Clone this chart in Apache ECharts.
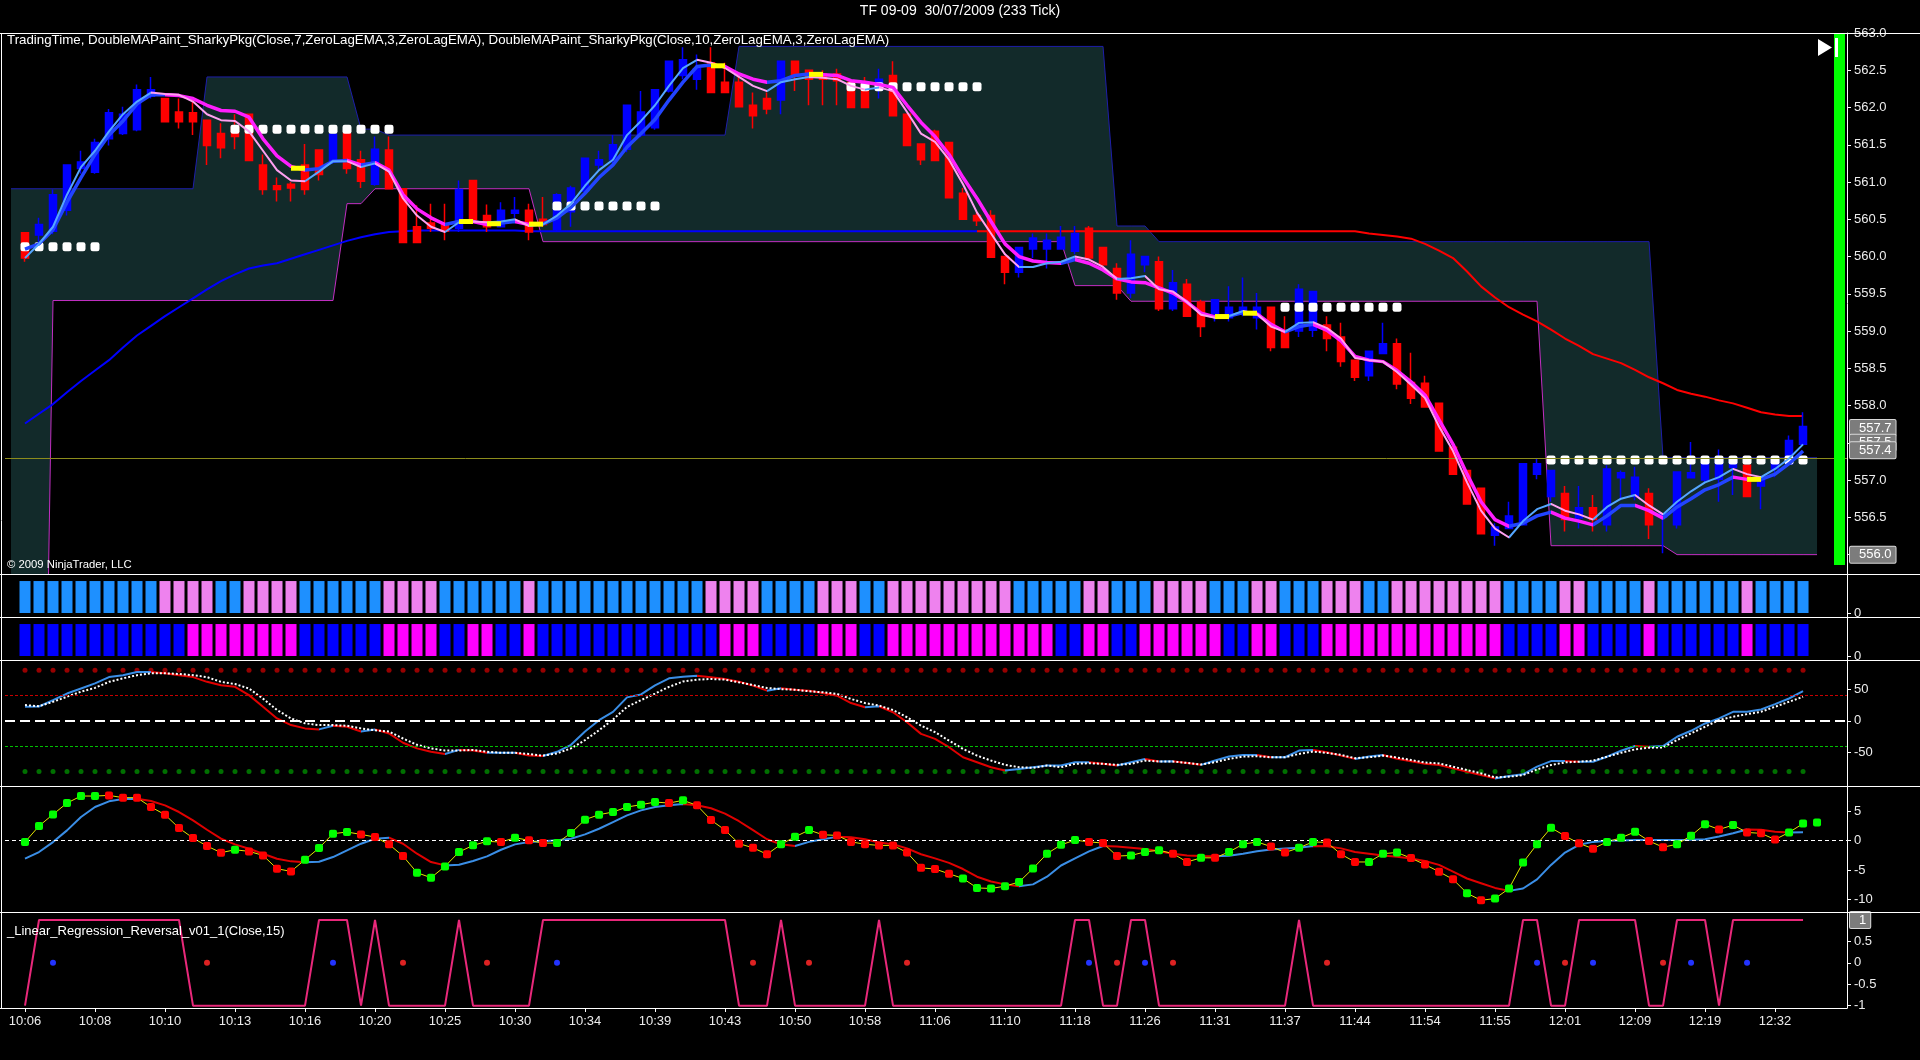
<!DOCTYPE html>
<html><head><meta charset="utf-8">
<script src="https://cdn.jsdelivr.net/npm/echarts@6/dist/echarts.min.js"></script>
<style>html,body{margin:0;padding:0;background:#000;}#c{width:1920px;height:1060px;}</style>
</head><body><div id="c"></div>
<script>
const timeLabels = ["10:06","10:08","10:10","10:13","10:16","10:20","10:25","10:30","10:34","10:39","10:43","10:50","10:58","11:06","11:10","11:18","11:26","11:31","11:37","11:44","11:54","11:55","12:01","12:09","12:19","12:32"];
const priceTicks = [556.0,556.5,557.0,557.5,558.0,558.5,559.0,559.5,560.0,560.5,561.0,561.5,562.0,562.5,563.0];
const zeroTick = [0];
const oscTicks = [-50,0,50];
const momTicks = [-10,-5,0,5];
const lrTicks = [-1,-0.5,0,0.5];

const open = [560.32,560.29,560.34,560.62,561.18,561.13,561.58,561.65,561.70,562.15,
562.12,561.94,561.93,561.83,561.65,561.75,561.91,561.23,560.95,560.97,
561.23,561.43,561.29,561.65,561.30,560.97,561.43,560.91,560.40,560.45,
560.43,560.38,561.02,560.55,560.40,560.58,560.62,560.50,560.36,560.60,
560.88,561.23,561.30,561.44,561.63,561.73,562.22,562.43,562.38,562.60,
562.34,562.34,562.03,562.12,562.10,562.62,562.50,562.45,562.45,562.34,
562.34,562.24,562.43,561.91,561.51,561.68,561.53,560.85,560.55,560.55,
560.00,559.79,560.10,560.10,560.10,560.07,560.38,560.12,559.84,559.51,
559.89,559.93,559.30,559.63,559.39,559.23,559.18,559.23,559.18,559.32,
559.01,559.00,559.01,559.08,558.92,558.61,558.40,558.70,558.83,558.31,
558.30,558.03,557.44,557.13,556.89,556.26,556.35,556.40,557.08,556.78,
556.82,556.49,556.63,556.40,557.03,556.78,556.82,556.50,556.40,557.03,
557.00,557.01,557.17,557.20,556.92,557.15,557.22,557.48];
const close = [559.98,560.43,560.83,561.23,561.27,561.53,561.93,561.91,562.24,562.24,
561.81,561.81,561.81,561.49,561.46,561.61,561.29,560.90,560.90,560.92,
560.90,561.10,561.64,561.18,561.01,561.44,560.91,560.19,560.19,560.38,
560.34,560.90,560.50,560.40,560.62,560.62,560.33,560.43,560.83,560.92,
561.32,561.30,561.50,562.03,561.94,562.24,562.62,562.64,562.52,562.20,
562.20,562.01,561.89,561.98,562.62,562.43,562.38,562.38,562.36,562.00,
562.00,562.38,561.89,561.49,561.30,561.29,560.79,560.50,560.48,559.99,
559.79,560.12,560.25,560.22,560.26,560.31,559.98,559.89,559.51,560.03,
560.00,559.30,559.65,559.20,559.06,559.42,559.32,559.32,559.32,558.78,
558.78,559.56,559.53,558.90,558.59,558.38,558.73,558.83,558.29,558.10,
557.98,557.39,557.08,556.68,556.28,556.37,556.52,557.22,557.22,557.13,
556.47,556.63,556.47,557.15,557.10,557.04,556.40,556.55,557.11,557.10,
557.22,557.29,557.29,556.78,557.04,557.29,557.53,557.72];
const low = [559.93,560.20,560.30,560.55,561.11,561.11,561.49,561.63,561.68,562.12,
561.81,561.72,561.63,561.23,561.32,561.44,561.29,560.83,560.74,560.74,
560.83,561.02,561.25,561.11,560.92,560.95,560.90,560.19,560.19,560.33,
560.22,560.33,560.45,560.33,560.40,560.52,560.22,560.40,560.33,560.40,
560.85,561.16,561.25,561.40,561.60,561.70,562.20,562.38,562.24,562.20,
562.20,562.00,561.72,561.91,561.91,562.22,562.03,562.03,562.03,562.00,
562.00,562.12,561.89,561.49,561.23,561.29,560.79,560.50,560.41,559.99,
559.63,559.72,559.98,559.84,560.10,560.03,559.98,559.84,559.42,559.44,
559.79,559.27,559.27,559.20,558.92,559.13,559.13,559.20,559.02,558.73,
558.78,558.92,558.92,558.73,558.52,558.33,558.33,558.70,558.22,558.02,
557.98,557.39,557.08,556.68,556.28,556.12,556.35,556.40,557.01,556.71,
556.31,556.35,556.31,556.31,556.73,556.73,556.21,556.02,556.35,557.03,
556.97,556.71,556.80,556.78,556.61,557.04,557.22,557.48];
const high = [560.32,560.52,560.90,561.23,561.42,561.58,561.98,562.01,562.31,562.41,
562.12,562.12,562.10,561.83,561.79,561.91,561.91,561.37,561.06,561.00,
561.51,561.43,561.65,561.65,561.42,561.61,561.61,560.91,560.69,560.71,
560.71,561.02,561.02,560.70,560.73,560.80,560.71,560.80,560.85,560.95,
561.32,561.42,561.63,562.03,562.22,562.25,562.62,562.81,562.71,562.81,
562.60,562.43,562.20,562.20,562.62,562.62,562.50,562.50,562.52,562.38,
562.41,562.52,562.62,561.91,561.51,561.70,561.53,560.92,560.59,560.62,
560.00,560.12,560.31,560.31,560.41,560.41,560.41,560.12,559.91,560.22,
560.00,560.00,559.82,559.70,559.42,559.42,559.60,559.72,559.51,559.32,
559.20,559.63,559.53,559.20,559.11,558.61,558.73,559.11,558.90,558.71,
558.40,558.03,557.48,557.13,556.89,556.42,556.71,557.22,557.29,557.13,
556.92,556.92,556.80,557.20,557.13,557.18,556.89,556.55,557.11,557.51,
557.22,557.41,557.32,557.20,557.06,557.32,557.60,557.91];

const slowMA = [557.76,557.89,558.02,558.18,558.33,558.47,558.61,558.78,558.94,559.07,
559.20,559.32,559.44,559.56,559.67,559.76,559.84,559.88,559.91,559.97,
560.03,560.09,560.15,560.21,560.26,560.30,560.33,560.34,560.35,560.35,
560.35,560.35,560.35,560.35,560.35,560.35,560.34,560.34,560.34,560.34,
560.34,560.34,560.34,560.34,560.34,560.34,560.34,560.34,560.34,560.34,
560.34,560.34,560.34,560.34,560.34,560.34,560.34,560.34,560.34,560.34,
560.34,560.34,560.34,560.34,560.34,560.34,560.34,560.34,560.34,560.34,
560.34,560.34,560.34,560.34,560.34,560.34,560.34,560.34,560.34,560.34,
560.34,560.34,560.34,560.34,560.34,560.34,560.34,560.34,560.34,560.34,
560.34,560.34,560.34,560.34,560.34,560.34,560.31,560.29,560.27,560.24,
560.17,560.08,559.98,559.80,559.60,559.45,559.32,559.22,559.13,559.02,
558.90,558.80,558.69,558.63,558.57,558.48,558.38,558.30,558.21,558.16,
558.12,558.07,558.03,557.97,557.91,557.88,557.86,557.86];
const slowMATurn = 68;

const maSlowLeg = [560.10,560.17,560.36,560.73,561.06,561.37,561.63,561.82,562.05,562.17,
562.17,562.16,562.12,562.03,561.96,561.95,561.87,561.58,561.35,561.21,
561.16,561.18,561.28,561.29,561.23,561.26,561.16,560.83,560.64,560.52,
560.43,560.47,560.47,560.43,560.45,560.47,560.43,560.44,560.52,560.66,
560.85,561.06,561.23,561.47,561.65,561.84,562.10,562.34,562.55,562.57,
562.55,562.45,562.38,562.34,562.36,562.43,562.45,562.44,562.43,562.36,
562.34,562.31,562.27,562.03,561.80,561.61,561.37,561.06,560.78,560.47,
560.17,560.00,559.94,559.92,559.91,559.96,559.91,559.82,559.70,559.66,
559.65,559.58,559.51,559.39,559.24,559.19,559.20,559.25,559.23,559.09,
558.99,559.06,559.09,559.01,558.87,558.66,558.61,558.59,558.47,558.32,
558.14,557.81,557.48,557.08,556.71,556.47,556.38,556.42,556.52,556.57,
556.49,556.45,556.40,556.52,556.66,556.66,556.59,556.49,556.64,556.75,
556.87,556.94,557.04,557.01,557.01,557.08,557.22,557.39];
const maFastLeg = [559.98,560.17,560.40,560.83,561.20,561.42,561.68,561.91,562.08,562.20,
562.18,562.17,562.08,561.91,561.83,561.82,561.68,561.42,561.16,561.02,
561.01,561.14,561.28,561.28,561.20,561.25,561.14,560.78,560.55,560.40,
560.33,560.46,560.47,560.46,560.47,560.50,560.41,560.43,560.55,560.71,
560.95,561.16,561.30,561.63,561.82,562.03,562.29,562.53,562.64,562.60,
562.53,562.41,562.29,562.22,562.34,562.38,562.41,562.40,562.38,562.29,
562.24,562.27,562.22,561.94,561.65,561.54,561.30,560.97,560.59,560.31,
560.03,559.86,559.86,559.91,559.93,560.00,559.96,559.86,559.70,559.71,
559.74,559.56,559.53,559.39,559.22,559.18,559.20,559.27,559.23,559.06,
558.99,559.11,559.12,559.04,558.90,558.64,558.61,558.59,558.45,558.28,
558.10,557.72,557.39,556.97,556.59,556.35,556.23,556.45,556.61,556.68,
556.59,556.54,556.47,556.64,556.75,556.80,556.66,556.54,556.71,556.85,
556.97,557.04,557.15,557.08,557.04,557.15,557.29,557.48];
const yellowStarts = [19,31,33,36,49,56,85,87,123];

const bandUpperRuns = [[560.91,14],[562.41,11],[561.71,2],[561.63,25],[562.82,27],[560.41,3],[560.20,36],[557.30,12]];
const bandLowerRuns = [[548.00,3],[559.41,21],[560.71,2],[560.91,12],[560.20,38],[559.61,4],[559.40,30],[556.12,9],[556.00,11]];
const dotSegments = [[0,5,560.13],[15,26,561.71],[38,45,560.68],[59,68,562.28],[90,98,559.32],[109,127,557.27]];
const oliveLevel = 557.3;
const priceTags = [557.7,557.5,557.4,556.0];

const paintBRuns = [['B',10],['P',4],['B',2],['P',4],['B',6],['P',4],['B',6],['P',1],['B',12],['P',4],['B',4],['P',3],['B',2],['P',9],['B',5],['P',2],['B',3],['P',4],['B',3],['P',2],['B',3],['P',3],['B',2],['P',8],['B',4],['P',2],['B',4],['P',1],['B',6],['P',1],['B',4]];
const paintCRuns = [['B',12],['M',8],['B',6],['M',4],['B',2],['M',2],['B',2],['M',1],['B',13],['M',3],['B',4],['M',3],['B',2],['M',12],['B',2],['M',2],['B',2],['M',6],['B',2],['M',2],['B',3],['M',13],['B',4],['M',2],['B',4],['M',1],['B',6],['M',1],['B',4]];

const oscMain = [22,22.6,32.6,43,51,59,69,72,77,77,
75,72,69,61.5,56,53.6,40.5,22,3.7,-6.8,
-12,-13.6,-7.9,-9.5,-17,-13.6,-20,-34.7,-43.6,-49,
-52.5,-46,-47,-50.5,-50.5,-50.5,-55,-55.5,-49,-38,
-17,1,14,37,41.6,56,67,69.5,71,68.6,
66,61.8,55.5,47.6,51.3,49,47.6,44,39.7,28,
21.3,23,13.5,-2.3,-20.7,-28.6,-41.7,-57.6,-65.4,-73.3,
-78.6,-76,-73.3,-70.7,-70.7,-65.4,-65.4,-68,-70.7,-65.4,
-60.2,-64.4,-63.8,-66.5,-69.6,-62.8,-56.5,-53.9,-53.9,-57.6,
-57.6,-47,-46,-49.7,-55,-60.2,-56.5,-53.9,-60,-64,
-68,-69.9,-75.2,-80.4,-85.7,-91,-87.3,-84.6,-72.5,-63.6,
-63.6,-64.6,-64.6,-56.7,-47.3,-39.9,-41,-39.9,-25.2,-15.8,
-4.2,3.7,14.2,14.2,17.9,26.3,35.2,46.8];
const oscSignal = [24.8,23,30,38,46,52,61.5,67,72,75,
75,74,72,69,61.5,58,51,35,17,3.7,
-4,-6.8,-6.8,-7.9,-12,-15,-17,-28,-38,-43.6,
-47,-47,-46,-49,-50.5,-50.5,-52.5,-55,-51.5,-43.6,
-30.5,-15,2,22,32.6,43,53.6,62,65,66,
65,60.7,56.5,51.8,50,49,46.6,45,42.4,34.5,
28,24,17,5.6,-7.6,-18,-31.3,-44.4,-55,-62.8,
-69.6,-73.3,-74.4,-70.7,-73.3,-68,-67,-68,-69.6,-68,
-62.8,-64.4,-64.4,-66.5,-69,-65.4,-60.2,-56.5,-56,-57.6,
-57.6,-52.3,-48.6,-50.7,-53.9,-59.1,-57.6,-55,-58,-62,
-66,-67.3,-72.5,-77.8,-83,-89.4,-88.3,-85.7,-76.8,-69.9,
-65.7,-64.6,-63,-56.7,-50.5,-45.2,-42.6,-42,-30.5,-20,
-9.4,1.1,6.4,10.5,14.2,22.1,30,37.9];
const oscBands = [80,40,-40,-80];

const momDots = [-0.23,2.49,4.46,6.38,7.57,7.57,7.68,7.29,7.29,5.71,
4.41,2.15,0.45,-0.90,-2.03,-1.53,-1.81,-2.49,-4.75,-5.20,
-3.22,-1.24,1.19,1.47,1.07,0.62,-0.62,-2.60,-5.42,-6.27,
-4.35,-1.92,-0.79,-0.11,-0.23,0.51,0.06,-0.40,-0.40,1.30,
3.56,4.41,4.86,5.71,6.10,6.55,6.38,6.84,5.99,3.5,
1.8,-0.5,-1.2,-2.3,-0.6,0.65,1.8,1.0,0.9,-0.2,
-0.6,-0.8,-0.8,-2.0,-4.6,-4.8,-5.6,-6.4,-8.0,-8.1,
-7.7,-7.0,-4.7,-2.2,-0.7,0.1,-0.2,-0.4,-2.6,-2.5,
-1.9,-1.6,-2.2,-3.6,-2.9,-2.9,-1.9,-0.6,-0.2,-1.0,
-2.0,-1.2,-0.2,-0.3,-2.3,-3.6,-3.6,-2.2,-2.0,-2.95,
-4.05,-5.25,-6.55,-8.9,-10.1,-9.8,-8.1,-3.7,-0.6,2.2,
0.8,-0.45,-1.35,-0.2,0.5,1.5,-0.05,-1.1,-0.6,0.85,
2.8,1.9,2.65,1.4,1.25,0.2,1.4,2.9,3.1];
const momDotRuns = [['G',6],['R',9],['G',1],['R',4],['G',4],['R',4],['G',6],['R',1],['G',1],['R',2],['G',8],['R',1],['G',1],['R',6],['G',3],['R',10],['G',9],['R',3],['G',3],['R',2],['G',1],['R',1],['G',3],['R',2],['G',2],['R',3],['G',3],['R',4],['G',1],['R',1],['G',5],['R',3],['G',3],['R',2],['G',3],['R',1],['G',1],['R',3],['G',3]];
const momSlow = [-3.05,-1.92,-0.23,1.75,4.01,5.71,6.67,7.06,7.12,6.72,
5.99,4.86,3.45,1.86,0.34,-0.62,-1.36,-2.20,-3.05,-3.50,
-3.67,-3.56,-2.77,-1.64,-0.51,0.34,0.51,-0.51,-2.20,-3.62,
-4.18,-4.07,-3.45,-2.66,-1.53,-0.62,-0.23,-0.11,0.06,0.34,
1.07,2.03,3.16,4.29,5.14,5.71,5.99,6.20,6.00,5.50,
4.60,3.30,1.80,0.25,-0.60,-0.90,-0.20,0.25,0.65,0.60,
0.25,-0.30,-0.60,-1.30,-2.30,-3.00,-3.75,-4.80,-6.10,-6.90,
-7.40,-7.70,-7.40,-6.10,-4.20,-3.00,-1.80,-0.90,-1.00,-1.20,
-1.40,-1.80,-2.20,-2.50,-2.60,-2.65,-2.55,-2.20,-1.80,-1.50,
-1.30,-1.20,-0.90,-0.95,-1.30,-1.90,-2.20,-2.50,-2.70,-3.00,
-3.45,-4.10,-5.25,-6.40,-7.20,-8.00,-8.50,-8.10,-6.55,-4.10,
-2.00,-0.70,-0.20,0.00,0.05,0.10,0.10,0.10,0.10,0.15,
0.25,0.70,1.25,1.90,1.85,1.50,1.40,1.45];

const linRegRuns = [[-1,1],[1,11],[-1,9],[1,3],[-1,1],[1,1],[-1,5],[1,1],[-1,5],[1,14],[-1,3],[1,1],[-1,6],[1,1],[-1,13],[1,2],[-1,2],[1,2],[-1,10],[1,1],[-1,15],[1,2],[-1,2],[1,5],[-1,2],[1,3],[-1,1],[1,6]];
const linRegUpDots = [2,22,38,76,80,108,112,119,123];
const linRegDownDots = [13,27,33,52,56,63,78,82,93,110,117];

// ---------- helpers ----------
const FONT = '"Liberation Sans", Arial, sans-serif';
const N = open.length;
const X_MIN = -1.4286, X_MAX = 130.14;
function expandRuns(runs){ const o=[]; runs.forEach(([v,n])=>{ for(let k=0;k<n;k++) o.push(v); }); return o; }
const pairs = (arr, off) => arr.map((v,i)=>[i+(off||0), v]);
function dirPieces(vals, up, down){
  const pcs=[]; let st=-10, cur=null;
  for(let i=0;i<vals.length-1;i++){
    const c = vals[i+1] >= vals[i] ? up : down;
    if(cur!==null && c!==cur){ pcs.push({gte:st,lt:i,color:cur}); st=i; }
    cur=c;
  }
  pcs.push({gte:st,lte:300,color:cur});
  return pcs;
}
const bandUpper = expandRuns(bandUpperRuns);
const bandLower = expandRuns(bandLowerRuns);
const paintB = expandRuns(paintBRuns);
const paintC = expandRuns(paintCRuns);
const momDotColor = expandRuns(momDotRuns);
const linReg = expandRuns(linRegRuns);
const idx = Array.from({length:N},(_,i)=>i);

const grids = [[33,541],[574,43],[617,43],[660,126],[786,126],[912,96]].map(([t,h])=>({left:5,right:73,top:t,height:h}));
const tickIdx = timeLabels.map((_,k)=>k*5);
const xAxes = grids.map((g,k)=>({
  type:'value', gridIndex:k, min:X_MIN, max:X_MAX, show:k===5,
  axisLine:{show:true,onZero:false,lineStyle:{color:'#fff',width:1}},
  axisTick:{show:true,customValues:tickIdx,length:4,lineStyle:{color:'#fff'}},
  axisLabel:{show:true,customValues:tickIdx,formatter:v=>timeLabels[Math.round(v/5)],color:'#ececec',fontSize:13,fontFamily:FONT,margin:7},
  splitLine:{show:false}
}));
function yAx(k,min,max,vals,fmt){
  return {type:'value',gridIndex:k,position:'right',min,max,
    axisLine:{show:true,onZero:false,lineStyle:{color:'#fff',width:1}},
    axisTick:{show:true,customValues:vals,length:4,lineStyle:{color:'#fff'}},
    axisLabel:{customValues:vals,formatter:fmt,color:'#ececec',fontSize:13,fontFamily:FONT,margin:7},
    splitLine:{show:false}};
}
const yAxes = [
  yAx(0,555.74,563.0,priceTicks,v=>v.toFixed(1)),
  yAx(1,-0.125,1.22,zeroTick,v=>String(v)),
  yAx(2,-0.125,1.22,zeroTick,v=>String(v)),
  yAx(3,-103,96,oscTicks,v=>String(v)),
  yAx(4,-12.08,9.27,momTicks,v=>String(v)),
  yAx(5,-1.054,1.187,lrTicks,v=>String(v))
];
const HIDDEN = {color:'rgba(0,0,0,0)',width:0};
const tagLabel = (txt)=>({show:true,position:'end',formatter:txt,color:'#ffffff',backgroundColor:'#7c7c7c',borderColor:'#d8d8d8',borderWidth:1,borderRadius:1,padding:[2,4,1,9],fontSize:13,fontFamily:FONT,distance:3});

const series=[]; const vms=[];
function add(s){ series.push(Object.assign({animation:false,silent:true},s)); return series.length-1; }

// price panel
add({type:'line',xAxisIndex:0,yAxisIndex:0,data:pairs(bandUpper,-1),symbol:'none',z:1,lineStyle:{color:'#1e1eaa',width:1},areaStyle:{color:'#122a2a',origin:'start',opacity:1}});
add({type:'line',xAxisIndex:0,yAxisIndex:0,data:pairs(bandLower,-1),symbol:'none',z:1,lineStyle:{color:'#c22fc2',width:1},areaStyle:{color:'#000000',origin:'start',opacity:1}});
let si = add({type:'line',xAxisIndex:0,yAxisIndex:0,data:pairs(slowMA),symbol:'none',z:2,lineStyle:{width:2}});
vms.push({type:'piecewise',show:false,dimension:0,seriesIndex:si,pieces:[{gte:-10,lt:slowMATurn,color:'#0000ff'},{gte:slowMATurn,lte:300,color:'#ff0000'}]});
add({type:'candlestick',xAxisIndex:0,yAxisIndex:0,z:3,barWidth:7,
  data:idx.map(i=>[i,open[i],close[i],low[i],high[i]]),encode:{x:0,y:[1,2,3,4]},
  itemStyle:{color:'#0000ff',color0:'#ff0000',borderColor:'#0000ff',borderColor0:'#ff0000',borderColorDoji:'#ff0000',borderWidth:1.5}
});
add({type:'line',xAxisIndex:0,yAxisIndex:0,data:[],z:8,
  markLine:{silent:true,symbol:['none','none'],animation:false,
    data:[{yAxis:oliveLevel,lineStyle:{color:'#8c8c1c',width:1,type:'solid'},label:{show:false}}]
      .concat(priceTags.map(v=>({yAxis:v,lineStyle:HIDDEN,label:tagLabel(v.toFixed(1))})))}
});
const dotData=[]; dotSegments.forEach(([a,b,lv])=>{ for(let i=a;i<=b;i++) dotData.push([i,lv]); });
add({type:'scatter',xAxisIndex:0,yAxisIndex:0,z:4,data:dotData,symbol:'roundRect',symbolSize:9,itemStyle:{color:'#ffffff',opacity:1}});
si = add({type:'line',xAxisIndex:0,yAxisIndex:0,data:pairs(maSlowLeg),symbol:'none',z:5,lineStyle:{width:3.5}});
vms.push({type:'piecewise',show:false,dimension:0,seriesIndex:si,pieces:dirPieces(maSlowLeg,'#2244ff','#ff1eff')});
si = add({type:'line',xAxisIndex:0,yAxisIndex:0,data:pairs(maFastLeg),symbol:'none',z:6,lineStyle:{width:2}});
vms.push({type:'piecewise',show:false,dimension:0,seriesIndex:si,pieces:dirPieces(maFastLeg,'#55a6ff','#ffa0f0')});
add({type:'scatter',xAxisIndex:0,yAxisIndex:0,z:7,symbol:'rect',symbolSize:[14,5],itemStyle:{color:'#ffff00',opacity:1},
  data:yellowStarts.map(i=>[i+0.5,(maSlowLeg[i]+maSlowLeg[i+1])/2])});

// paint bars
add({type:'bar',xAxisIndex:1,yAxisIndex:1,barWidth:11,z:2,data:idx.map(i=>({value:[i,1],itemStyle:{color:paintB[i]==='B'?'#1e90ff':'#ee82ee'}}))});
add({type:'bar',xAxisIndex:2,yAxisIndex:2,barWidth:11,z:2,data:idx.map(i=>({value:[i,1],itemStyle:{color:paintC[i]==='B'?'#0000ff':'#ff00ff'}}))});

// oscillator
add({type:'scatter',xAxisIndex:3,yAxisIndex:3,z:2,symbolSize:5,itemStyle:{color:'#960000',opacity:1},data:idx.map(i=>[i,oscBands[0]]),
  markLine:{silent:true,symbol:['none','none'],animation:false,label:{show:false},data:[
    {yAxis:oscBands[1],lineStyle:{color:'#c80000',width:1,type:[3,2]}},
    {yAxis:oscBands[2],lineStyle:{color:'#00c000',width:1,type:[3,2]}},
    {yAxis:0,lineStyle:{color:'#ffffff',width:2,type:[10,5]}}]}});
add({type:'scatter',xAxisIndex:3,yAxisIndex:3,z:2,symbolSize:5,itemStyle:{color:'#007000',opacity:1},data:idx.map(i=>[i,oscBands[3]])});
si = add({type:'line',xAxisIndex:3,yAxisIndex:3,data:pairs(oscMain),symbol:'none',z:3,lineStyle:{width:2}});
vms.push({type:'piecewise',show:false,dimension:0,seriesIndex:si,pieces:dirPieces(oscMain,'#3a8ee6','#e00000')});
add({type:'line',xAxisIndex:3,yAxisIndex:3,data:pairs(oscSignal),symbol:'none',z:4,lineStyle:{color:'#ffffff',width:2,type:[2,2]}});

// momentum
si = add({type:'line',xAxisIndex:4,yAxisIndex:4,data:pairs(momSlow),symbol:'none',z:3,lineStyle:{width:2},
  markLine:{silent:true,symbol:['none','none'],animation:false,label:{show:false},data:[{yAxis:0,lineStyle:{color:'#ffffff',width:1,type:[4,3]}}]}});
vms.push({type:'piecewise',show:false,dimension:0,seriesIndex:si,pieces:dirPieces(momSlow,'#3a8ee6','#e00000')});
add({type:'line',xAxisIndex:4,yAxisIndex:4,data:pairs(momDots.slice(0,N)),symbol:'none',z:4,lineStyle:{color:'#e6e600',width:1}});
add({type:'scatter',xAxisIndex:4,yAxisIndex:4,z:5,symbol:'roundRect',symbolSize:8,
  data:momDots.map((v,i)=>({value:[i,v],itemStyle:{color:momDotColor[i]==='G'?'#00ff00':'#ff0000',opacity:1}}))});

// linear regression reversal
add({type:'line',xAxisIndex:5,yAxisIndex:5,data:pairs(linReg),symbol:'none',z:3,lineStyle:{color:'#e8287a',width:2}});
add({type:'line',xAxisIndex:5,yAxisIndex:5,data:[],z:8,
  markLine:{silent:true,symbol:['none','none'],animation:false,data:[{yAxis:1,lineStyle:HIDDEN,label:tagLabel('1')}]}});
add({type:'scatter',xAxisIndex:5,yAxisIndex:5,z:4,symbolSize:6,
  data:linRegUpDots.map(i=>({value:[i,0],itemStyle:{color:'#2233ff',opacity:1}})).concat(linRegDownDots.map(i=>({value:[i,0],itemStyle:{color:'#dd2222',opacity:1}})))});

const sepY=[33.5,574.5,617.5,660.5,786.5,912.5];
const graphic = sepY.map(y=>({type:'line',silent:true,z:20,shape:{x1:0,y1:y,x2:1920,y2:y},style:{stroke:'#ffffff',lineWidth:1}}))
 .concat([
  {type:'line',silent:true,z:20,shape:{x1:1.5,y1:33,x2:1.5,y2:1008},style:{stroke:'#ffffff',lineWidth:1}},
  {type:'line',silent:true,z:20,shape:{x1:0,y1:1008.5,x2:1847,y2:1008.5},style:{stroke:'#ffffff',lineWidth:1}},
  {type:'rect',silent:true,z:20,shape:{x:1834,y:34,width:11,height:531},style:{fill:'#00ff00'}},
  {type:'rect',silent:true,z:21,shape:{x:1835,y:38,width:3,height:19},style:{fill:'#ffffff'}},
  {type:'polygon',silent:true,z:21,shape:{points:[[1818,39],[1818,56],[1832,47.5]]},style:{fill:'#ffffff'}}
 ]);

const chart = echarts.init(document.getElementById('c'),null,{renderer:'canvas'});
chart.setOption({
  backgroundColor:'#000000', animation:false,
  textStyle:{fontFamily:FONT},
  title:[
    {text:'TF 09-09  30/07/2009 (233 Tick)',left:'center',top:4,padding:0,textStyle:{color:'#ffffff',fontSize:14,fontWeight:'normal',fontFamily:FONT}},
    {text:'TradingTime, DoubleMAPaint_SharkyPkg(Close,7,ZeroLagEMA,3,ZeroLagEMA), DoubleMAPaint_SharkyPkg(Close,10,ZeroLagEMA,3,ZeroLagEMA)',left:7,top:34,padding:0,textStyle:{color:'#ffffff',fontSize:13.3,fontWeight:'normal',fontFamily:FONT}},
    {text:'© 2009 NinjaTrader, LLC',left:7,top:559,padding:0,textStyle:{color:'#ffffff',fontSize:11.3,fontWeight:'normal',fontFamily:FONT}},
    {text:'_Linear_Regression_Reversal_v01_1(Close,15)',left:7,top:925,padding:0,textStyle:{color:'#ffffff',fontSize:13,fontWeight:'normal',fontFamily:FONT}}
  ],
  grid:grids, xAxis:xAxes, yAxis:yAxes, visualMap:vms, series:series, graphic:graphic
});
</script></body></html>
